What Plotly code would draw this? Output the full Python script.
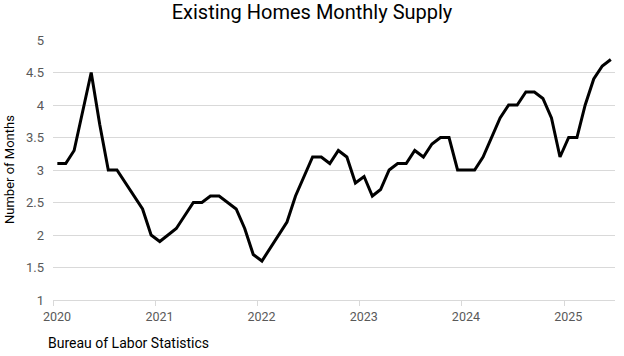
import pandas as pd
import plotly.graph_objects as go

# Monthly periods (Jan 2020 - Jun 2025)
months = pd.date_range("2020-01-01", "2025-06-01", freq="MS")

# Months of supply
supply = [
    3.1, 3.1, 3.3, 3.9, 4.5, 3.7, 3.0, 3.0, 2.8, 2.6, 2.4, 2.0,   # 2020
    1.9, 2.0, 2.1, 2.3, 2.5, 2.5, 2.6, 2.6, 2.5, 2.4, 2.1, 1.7,   # 2021
    1.6, 1.8, 2.0, 2.2, 2.6, 2.9, 3.2, 3.2, 3.1, 3.3, 3.2, 2.8,   # 2022
    2.9, 2.6, 2.7, 3.0, 3.1, 3.1, 3.3, 3.2, 3.4, 3.5, 3.5, 3.0,   # 2023
    3.0, 3.0, 3.2, 3.5, 3.8, 4.0, 4.0, 4.2, 4.2, 4.1, 3.8, 3.2,   # 2024
    3.5, 3.5, 4.0, 4.4, 4.6, 4.7,                                 # 2025
]

year_ticks = ["2020-01-01", "2021-01-01", "2022-01-01", "2023-01-01", "2024-01-01", "2025-01-01"]
year_labels = ["2020", "2021", "2022", "2023", "2024", "2025"]
y_ticks = [1, 1.5, 2, 2.5, 3, 3.5, 4, 4.5, 5]

FONT = "Liberation Sans Narrow, Arial Narrow, Roboto, sans-serif"

fig = go.Figure()
fig.add_trace(go.Scatter(
    x=months, y=supply, mode="lines",
    xperiod="M1", xperiodalignment="middle",
    line=dict(color="#000000", width=3),
    hoverinfo="x+y",
))

fig.update_layout(
    width=624, height=356,
    margin=dict(l=53, r=9, t=40, b=56, autoexpand=False),
    paper_bgcolor="white", plot_bgcolor="white",
    showlegend=False,
    font=dict(family=FONT, color="#595959", size=12),
    title=dict(
        text="Existing Homes Monthly Supply",
        x=0.5, xanchor="center", xref="container",
        y=1 - 12 / 356, yanchor="middle", yref="container",
        font=dict(family=FONT, size=20, color="#000000"),
    ),
    xaxis=dict(
        type="date",
        range=["2020-01-01", "2025-07-01"],
        tickvals=year_ticks, ticktext=year_labels,
        ticks="outside", ticklen=5, tickcolor="#d9d9d9", tickwidth=1,
        ticklabelshift=4,
        showgrid=False, zeroline=False,
        showline=True, linecolor="#d9d9d9", linewidth=1,
        automargin=False,
        tickfont=dict(family=FONT, size=12.5, color="#595959"),
    ),
    yaxis=dict(
        range=[1, 5],
        tickvals=y_ticks,
        showgrid=True, gridcolor="#d9d9d9", gridwidth=1,
        zeroline=False, showline=False,
        ticks="", ticklabelstandoff=8,
        automargin=False,
        tickfont=dict(family=FONT, size=13, color="#595959"),
    ),
    annotations=[
        dict(
            text="Number of Months", textangle=-90,
            xref="paper", yref="paper", x=0, y=0.5,
            xanchor="center", yanchor="middle", xshift=-44,
            showarrow=False,
            font=dict(family=FONT, size=13, color="#000000"),
        ),
        dict(
            text="Bureau of Labor Statistics",
            xref="paper", yref="paper", x=0, y=0,
            xanchor="left", yanchor="middle", xshift=-7, yshift=-43,
            showarrow=False,
            font=dict(family=FONT, size=14, color="#000000"),
        ),
    ],
)

fig.write_html(
    "out.html",
    config={"displayModeBar": False},
    post_script="document.body.style.margin='0';document.body.style.padding='0';",
)
